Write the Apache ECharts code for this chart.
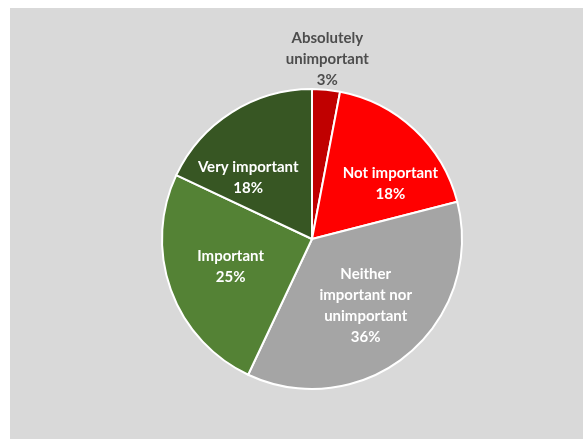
<!DOCTYPE html>
<html>
<head>
<meta charset="utf-8">
<script src="https://cdn.jsdelivr.net/npm/echarts@6/dist/echarts.min.js"></script>
<style>
  html, body { margin: 0; padding: 0; background: #ffffff; }
  #chart { position: absolute; left: 10px; top: 8px; width: 573px; height: 431px; background: #d9d9d9; }
</style>
</head>
<body>
<div id="chart"></div>
<script>
// Importance ratings, share of respondents (%)
const categories = [
  'Absolutely\nunimportant',
  'Not important',
  'Neither\nimportant nor\nunimportant',
  'Important',
  'Very important'
];
const shares = [3, 18, 36, 25, 18];

const sliceColors = ['#c00000', '#ff0000', '#a5a5a5', '#548235', '#375623'];
// nudges for the label placement of each slice
const labelOffsets = [[8, -102], [25, 2], [4, 7], [-8, 1], [-22, 5]];
const labelColors = ['#4d4d4d', '#ffffff', '#ffffff', '#ffffff', '#ffffff'];

const chart = echarts.init(document.getElementById('chart'), null, { renderer: 'canvas' });

chart.setOption({
  backgroundColor: '#d9d9d9',
  animation: false,
  series: [{
    type: 'pie',
    center: [302, 231],
    radius: [0, 150],
    startAngle: 90,
    clockwise: true,
    avoidLabelOverlap: false,
    itemStyle: { borderColor: '#ffffff', borderWidth: 2 },
    label: {
      show: true,
      position: 'inside',
      fontFamily: 'Lato, "Open Sans", sans-serif',
      fontWeight: 'bold',
      fontSize: 15,
      lineHeight: 21,
      align: 'center',
      formatter: p => p.name + '\n' + p.value + '%'
    },
    labelLine: { show: false },
    emphasis: { disabled: true },
    data: categories.map((name, i) => ({
      name: name,
      value: shares[i],
      itemStyle: { color: sliceColors[i] },
      label: { color: labelColors[i], offset: labelOffsets[i] }
    }))
  }]
});
</script>
</body>
</html>
